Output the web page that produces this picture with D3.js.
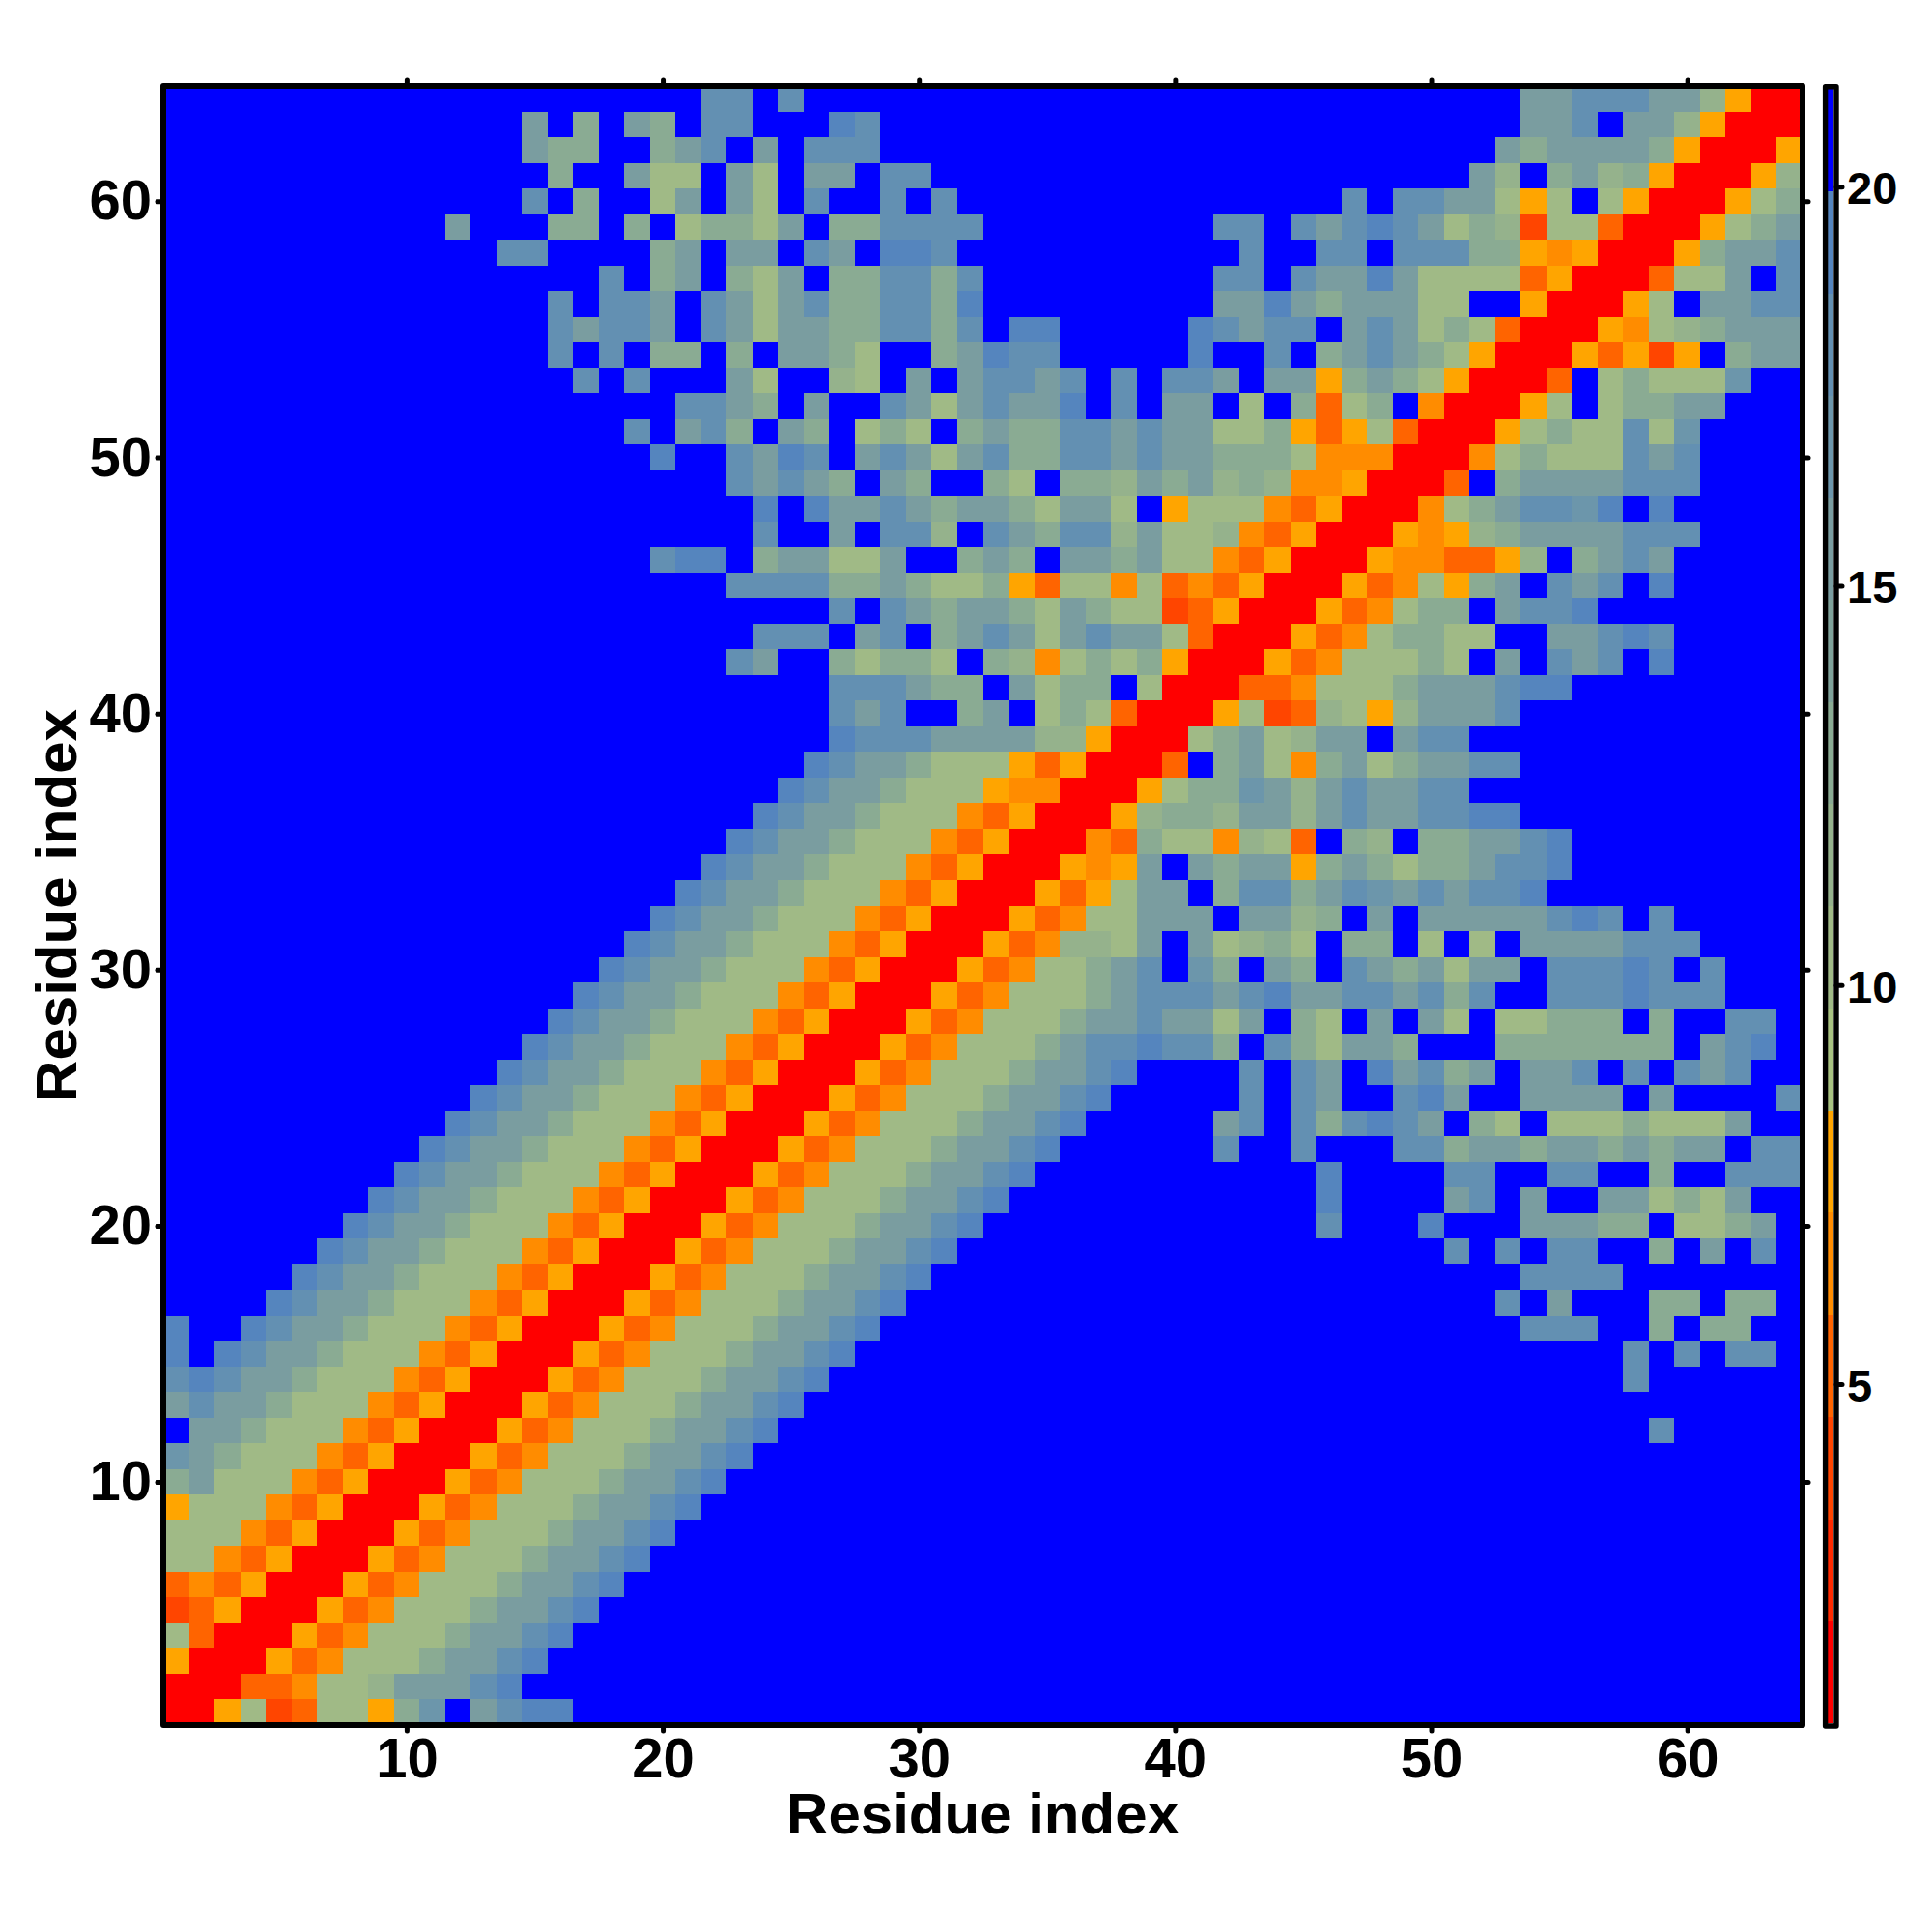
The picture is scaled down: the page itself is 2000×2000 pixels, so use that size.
<!DOCTYPE html>
<html>
<head>
<meta charset="utf-8">
<style>
    body { margin: 0; background: #fff; }
    text { font-family: "Liberation Sans", Arial, sans-serif; font-weight: bold; fill: #000; }
</style>
<script src="https://cdn.jsdelivr.net/npm/d3@7"></script>
</head>
<body>
<div id="chart"></div>
<script>
// Predicted distance per residue pair, one string per row from y = 64 down to y = 1.
// Each character is a distance class, spaces only group every ten columns.
const distanceRows = [
    ".......... .......... .dd.d..... .......... .......... ...ccdddcc g4rr",
    ".......... ....c.b.cb .dd...ed.. .......... .......... ...ccd.ccg 4rrr",
    ".......... ....cbb..b cd.c.ddd.. .......... .......... ..cbccccb4 rrr4",
    ".......... .....b..ca a.ca.cc.dd .......... .......... .cg.bcgb4r rr4g",
    ".......... ....d.b..a c.ca.d..d. d......... ......d.dd cca4a.a4rr r4ab",
    ".......... .c...bb.b. abbac.bbdd dd........ .dd.dcdedc abg1aa2rrr 4abc",
    ".......... ...dd....b c.cc.dc.ee d......... ..d..dd.dd dbb434rrr4 bccd",
    ".......... .......d.b c.bac.bbdd bd........ .dd.dcceca aaa24rrr2a ac.d",
    ".......... .....d.ddc .dcacdbbdd be........ .ccecbccca a..4rrr4a. ccdd",
    ".......... .....dcddc .dcaccbbdd bd.ee..... edcdd.cdca ba2rrr43ag bccc",
    ".......... .....d.d.b b.b.ccba.. bcedd..... e..d.bcdcb a4rrr42414 .bcc",
    ".......... ......d.d. ..ca..ga.c .cddcd.d.d dc.cc4bcba 4rrr2.abaa ah..",
    ".......... .......... ddcb.c..dc acdcce.d.c c.a.b2ab.3 rrr4a.abbc c...",
    ".......... ........d. cdb.cb.aba .bcbbddcdc caab424a2r rr4abaadah ....",
    ".......... .........e ..dced.cdc acdbbddcdc cbbba333rr r3abaaadcd ....",
    ".......... .......... ..dcdcb.cb ..ba.bbgcb cgbg334rrr 2.bccccddd ....",
    ".......... .......... ...e.eccdc bccbacca.4 aaa324rrr3 abcddhe.e. ....",
    ".......... .......... ...d..c.dd g.dcbddgca ag324rrr43 4gbccccddd ....",
    ".......... .........d ee.bccaac. .bcb.ccbca a324rrr433 224g.bcdc. ....",
    ".......... .......... ..ddddbbcb aab42aa3a2 324rrr423a 4bc.dcd.e. ....",
    ".......... .......... ......d.dc bccbacbaa1 24rrr423ab b.cdde.... ....",
    ".......... .......... ...ddd.cd. bcdcacdcca 2rrr423abb aa..ccded. ....",
    ".......... .......... ..dc..babb a.bg3abab4 rrr423aaab a.c.dcd.e. ....",
    ".......... .......... ......dddc bb.cabb.ar rr223aaabc ccdee..... ....",
    ".......... .......... ......dcd. .bc.aba2rr r4a12ga4gc ccd....... ....",
    ".......... .......... ......eddd ccccgg4rrr abcagcc.cd d......... ....",
    ".......... .......... .....edccb aaa424rrr2 .bca3bcabc cdd....... ....",
    ".......... .......... ....edccba aa433rrr4a bbhcgcdccd d......... ....",
    ".......... .......... ...edccbaa a324rrr4gb bgccgcdccd dee....... ....",
    ".......... .......... ..edccbaaa 324rrr32ba a3ga2.bg.b bccde..... ....",
    ".......... .......... .edccbaaa3 24rrr434c. cbcc4bcbab bcdde..... ....",
    ".......... .......... edccbaaa32 4rrr424acc .bddbcdhcd cdde...... ....",
    ".......... .........e dccbaaa324 rrr423aacc c.ccgb.c.c ccccded.d. ....",
    ".......... ........ed ccbaaa324r rr423ggac. cagba.bb.a .a.ccccddd ....",
    ".......... .......edc cbaaa324rr r423aabcd. hb.cb.dcbc acc.ddded. d...",
    ".......... ......edcc baaa324rrr 423aaabcdd dcdeccddcd bd..dddedd d...",
    ".......... .....edccb aaa324rrr4 23aaabccdc cac.ba.c.c a.aabbb.b. .dd.",
    ".......... ....edccba aa324rrr42 3aaabcdded db.dbaccb. ..bbbbbbb. cde.",
    ".......... ...edccbaa a324rrr423 aaabccde.. ..d.dc.ecd bc.ccd.d.d cd..",
    ".......... ..edccbaaa 324rrr423a aabccde... ..d.dc..de c..cccc.c. ...d",
    ".......... .edccbaaa3 24rrr423aa abccde.... .cd.dbdedc .ba.aaabaa ac..",
    ".......... edccbaaa32 4rrr423aaa bccde..... .d..d...dd bccbccbcbc c.dd",
    ".........e dccbaaa324 rrr423aaab ccde...... .....e.... dd..dd..b. .ddd",
    "........ed ccbaaa324r rr423aaabc cde....... .....e.... cd.c..ccab ac..",
    ".......edc cbaaa324rr r423aaabcc de........ .....d...e ...cccbb.a abc.",
    "......edcc baaa324rrr 423aaabccd e......... .......... d.d.dd..b. c.d.",
    ".....edccb aaa324rrr4 23aaabccde .......... .......... ...dddd... ....",
    "....edccba aa324rrr42 3aaabccde. .......... .......... ..d.c...bb .bb.",
    "e..edccbaa a324rrr423 aaabccde.. .......... .......... ...ddd..b. bb..",
    "e.edccbaaa 324rrr423a aabccde... .......... .......... .......d.d .dd.",
    "dedccbaaa3 24rrr423aa abccde.... .......... .......... .......d.. ....",
    "cdccbaaa32 4rrr423aaa bccde..... .......... .......... .......... ....",
    ".ccbaaa324 rrr423aaab ccde...... .......... .......... ........d. ....",
    "hcbaaa324r rr423aaabc cde....... .......... .......... .......... ....",
    "bcaaa324rr r423aaabcc de........ .......... .......... .......... ....",
    "4aaa324rrr 423aaabccd e......... .......... .......... .......... ....",
    "aaa324rrr4 23aaabccde .......... .......... .......... .......... ....",
    "aa324rrr42 3aaabccde. .......... .......... .......... .......... ....",
    "2324rrr423 aaabccde.. .......... .......... .......... .......... ....",
    "124rrr423a aabccde... .......... .......... .......... .......... ....",
    "a2rrr423aa abccde.... .......... .......... .......... .......... ....",
    "4rrr423aaa bccde..... .......... .......... .......... .......... ....",
    "rrr223aagc ccde...... .......... .......... .......... .......... ....",
    "rr4a12aa4b h.cdee.... .......... .......... .......... .......... ...."
];

// Distance for each class character
const classCodes = ["r", "1", "2", "3", "4", "a", "g", "b", "c", "h", "d", "e", "."];
const classDistances = [1.4, 3.9, 5.2, 6.5, 7.8, 10.3, 11.6, 12.9, 15.4, 16.7, 18.0, 19.3, 20.6];

const levelBreaks = [2.03, 3.31, 4.59, 5.87, 7.15, 8.43, 9.71, 10.99, 12.27, 13.54, 14.82, 16.10, 17.38, 18.66, 19.94];
const levelColors = ["#ff0000", "#ff2a00", "#ff4500", "#ff6400", "#ff8c00", "#ffa500",
    "#a8c281", "#a0ba86", "#95b28c", "#8aab93", "#7fa29a", "#7a9da0", "#6c96ab", "#6390b2", "#5585be", "#0000ff"];
const barRange = [0.75, 21.22];

const axisTicks = [10, 20, 30, 40, 50, 60];
const barTicks = [5, 10, 15, 20];
const axisTitle = "Residue index";

// The frame sits on the outer edge of the cells
const plotLeft = 169, plotRight = 1866, plotTop = 89, plotBottom = 1786;
const frameWidth = 6;

const x = d3.scaleLinear().domain([0.5, 64.5]).range([plotLeft, plotRight]);
const y = d3.scaleLinear().domain([0.5, 64.5]).range([plotBottom, plotTop]);
const barY = d3.scaleLinear().domain([5, 20]).range([1433, 193.3]);
const color = d3.scaleThreshold().domain(levelBreaks).range(levelColors);
const distanceOf = new Map(classCodes.map((c, i) => [c, classDistances[i]]));

const cells = distanceRows.flatMap((row, r) =>
    row.replace(/ /g, "").split("").map((code, c) => ({
        col: c + 1,
        row: 64 - r,
        distance: distanceOf.get(code)
    }))
);

const svg = d3.select("#chart")
    .append("svg")
    .attr("width", 2000)
    .attr("height", 2000);

svg.append("g")
    .attr("shape-rendering", "crispEdges")
    .selectAll("rect")
    .data(cells)
    .join("rect")
    .attr("x", d => x(d.col - 0.5))
    .attr("y", d => y(d.row + 0.5))
    .attr("width", d => x(d.col + 0.5) - x(d.col - 0.5))
    .attr("height", d => y(d.row - 0.5) - y(d.row + 0.5))
    .attr("fill", d => color(d.distance));

function styleAxis(g, fontSize) {
    g.select(".domain").remove();
    g.selectAll(".tick line")
        .attr("stroke", "#000")
        .attr("stroke-width", 5)
        .attr("stroke-linecap", "round");
    g.selectAll(".tick text")
        .style("font-size", fontSize + "px")
        .attr("fill", "#000");
}

svg.append("g")
    .attr("transform", `translate(0,${plotBottom})`)
    .call(d3.axisBottom(x).tickValues(axisTicks).tickSize(6).tickPadding(7))
    .call(styleAxis, 58);

svg.append("g")
    .attr("transform", `translate(${plotLeft},0)`)
    .call(d3.axisLeft(y).tickValues(axisTicks).tickSize(6).tickPadding(6))
    .call(styleAxis, 58);

svg.append("g")
    .attr("transform", `translate(0,${plotTop})`)
    .call(d3.axisTop(x).tickValues(axisTicks).tickSize(6).tickFormat(""))
    .call(styleAxis, 58);

svg.append("g")
    .attr("transform", `translate(${plotRight},0)`)
    .call(d3.axisRight(y).tickValues(axisTicks).tickSize(6).tickFormat(""))
    .call(styleAxis, 58);

svg.append("rect")
    .attr("x", plotLeft)
    .attr("y", plotTop)
    .attr("width", plotRight - plotLeft)
    .attr("height", plotBottom - plotTop)
    .attr("fill", "none")
    .attr("stroke", "#000")
    .attr("stroke-width", frameWidth)
    .attr("stroke-linejoin", "round");

svg.append("text")
    .attr("x", (plotLeft + plotRight) / 2)
    .attr("y", 1898)
    .attr("text-anchor", "middle")
    .style("font-size", "60px")
    .text(axisTitle);

svg.append("text")
    .attr("transform", `translate(79,${(plotTop + plotBottom) / 2}) rotate(-90)`)
    .attr("text-anchor", "middle")
    .style("font-size", "60px")
    .text(axisTitle);

// Colour bar, one block per level
const barLeft = 1892.3, barRight = 1898.3;
const barEdges = [barRange[0], ...levelBreaks, barRange[1]];

svg.append("g")
    .attr("shape-rendering", "crispEdges")
    .selectAll("rect")
    .data(levelColors)
    .join("rect")
    .attr("x", barLeft)
    .attr("width", barRight - barLeft)
    .attr("y", (d, i) => barY(barEdges[i + 1]))
    .attr("height", (d, i) => barY(barEdges[i]) - barY(barEdges[i + 1]))
    .attr("fill", d => d);

svg.append("g")
    .attr("transform", `translate(${barRight + 2.7},0)`)
    .call(d3.axisRight(barY).tickValues(barTicks).tickSize(6).tickPadding(5))
    .call(styleAxis, 47)
    .call(g => g.selectAll(".tick text").attr("dy", "0.37em"));

svg.append("rect")
    .attr("x", barLeft - 2.7)
    .attr("y", barY(barRange[1]) - 2.7)
    .attr("width", barRight - barLeft + 5.4)
    .attr("height", barY(barRange[0]) - barY(barRange[1]) + 5.4)
    .attr("fill", "none")
    .attr("stroke", "#000")
    .attr("stroke-width", 5.4)
    .attr("stroke-linejoin", "round");
</script>
</body>
</html>
